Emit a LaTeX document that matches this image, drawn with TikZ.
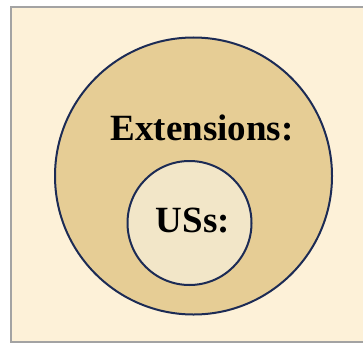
\documentclass[tikz,border=0pt]{standalone}
\usepackage{fontspec}
\setmainfont{Liberation Serif}
\definecolor{bgbeige}{HTML}{FDF1D8}
\definecolor{outerfill}{HTML}{E6CD95}
\definecolor{innerfill}{HTML}{F2E6C8}
\definecolor{navy}{HTML}{1C2B55}
\definecolor{framegray}{HTML}{A3A3A3}
\tikzset{
  ring/.style={circle, draw=navy, line width=2pt, inner sep=0pt},
  label/.style={font=\bfseries\fontsize{37}{41}\selectfont, text=black, inner sep=0pt}
}
\begin{document}
\begin{tikzpicture}[x=1pt,y=-1pt]
\useasboundingbox (0,0) rectangle (363,345);
\fill[white] (0,0) rectangle (363,345);
\draw[framegray, line width=2pt, fill=bgbeige] (11,7) rectangle (368,342);
\node[ring, fill=outerfill, minimum size=277pt] (outer) at (193.5,176) {};
\node[ring, fill=innerfill, minimum size=124pt] (inner) at (189.5,223) {};
\node[label, anchor=base] (ext) at (202,140) {Extensions:};
\node[label, anchor=base] (uss) at (193,232) {USs:};
\end{tikzpicture}
\end{document}
